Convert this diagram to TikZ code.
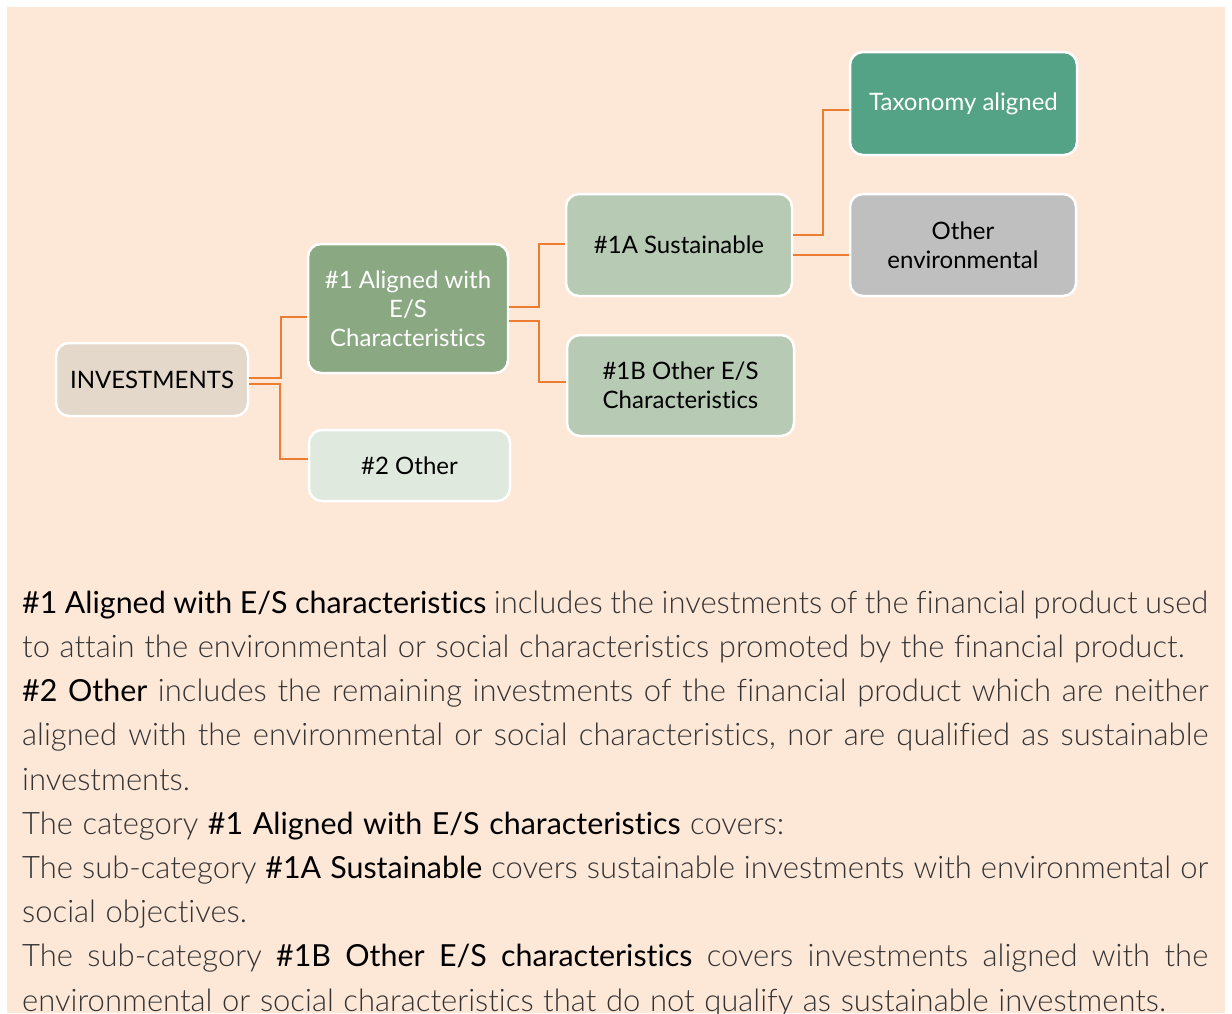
\documentclass[tikz,border=0pt]{standalone}
\usepackage{fontspec}
\setmainfont{Lato Light}[Ligatures=NoCommon]
\newfontfamily\latoreg{Lato}[Ligatures=NoCommon]
\definecolor{peach}{HTML}{FDE7D7}
\definecolor{linkorange}{HTML}{ED7D31}
\definecolor{invfill}{HTML}{E4D8CA}
\definecolor{alignfill}{HTML}{8AA882}
\definecolor{otherfill}{HTML}{DFE9DE}
\definecolor{subfill}{HTML}{B7CAB4}
\definecolor{taxfill}{HTML}{55A386}
\definecolor{envfill}{HTML}{BFBFBF}
\definecolor{bodygrey}{HTML}{333333}
\newcommand\keyterm[1]{{\latoreg\fontsize{30.4}{44.2}\selectfont\color{black}#1}}
\begin{document}
\begin{tikzpicture}[x=1pt,y=-1pt,
  box/.style={draw=white,line width=2.5pt,rounded corners=13pt,align=center,inner sep=0pt,
    font=\latoreg\fontsize{24}{29}\selectfont},
  link/.style={draw=linkorange,line width=2.2pt}]

\useasboundingbox (0,0) rectangle (1232,1013);
\fill[white] (0,0) rectangle (1232,1013);
\fill[peach] (7,7) rectangle (1225,1013);

\node[box,fill=invfill,minimum width=192pt,minimum height=73pt] (inv) at (152,379.5) {INVESTMENTS};
\node[box,fill=alignfill,text=white,minimum width=200pt,minimum height=129pt] (al) at (408,308.5) {\#1 Aligned with\\E/S\\Characteristics};
\node[box,fill=otherfill,minimum width=201pt,minimum height=71pt] (oth) at (409.5,465.5) {\#2 Other};
\node[box,fill=subfill,minimum width=226pt,minimum height=102pt] (sus) at (679,245) {\#1A Sustainable};
\node[box,fill=subfill,minimum width=227pt,minimum height=101pt] (es) at (680.5,385.5) {\#1B Other E/S\\Characteristics};
\node[box,fill=taxfill,text=white,minimum width=227pt,minimum height=103pt] (tax) at (963.5,103.5) {Taxonomy aligned};
\node[box,fill=envfill,minimum width=226pt,minimum height=102pt] (env) at (963,245) {Other\\environmental};

\draw[link] ([yshift=1.5pt]inv.east) -- ++(32,0) |- ([yshift=-8.5pt]al.west);
\draw[link] ([yshift=-4.5pt]inv.east) -- ++(31,0) |- ([yshift=6.5pt]oth.west);
\draw[link] ([yshift=1.5pt]al.east) -- ++(30,0) |- ([yshift=1pt]sus.west);
\draw[link] ([yshift=-12.5pt]al.east) -- ++(30,0) |- ([yshift=3.5pt]es.west);
\draw[link] ([yshift=10pt]sus.east) -- ++(30,0) |- ([yshift=-6.5pt]tax.west);
\draw[link] ([yshift=-10pt]sus.east) -- ([yshift=-10pt]env.west);

\node[anchor=north west,text width=1186pt,align=justify,inner sep=0pt,text=bodygrey,
  font=\fontsize{31}{44.2}\selectfont] (notes) at (22,590.5) {\hyphenpenalty=10000\tolerance=9999\emergencystretch=20pt
\spaceskip=0.31em plus 0.4em minus 0.15em
\keyterm{\#1 Aligned with E/S characteristics} includes the investments of the financial product used\linebreak
to attain the environmental or social characteristics promoted by the financial product.\par
\keyterm{\#2 Other} includes the remaining investments of the financial product which are neither\linebreak
aligned with the environmental or social characteristics, nor are qualified as sustainable\linebreak
investments.\par
The category \keyterm{\#1 Aligned with E/S characteristics} covers:\par
The sub-category \keyterm{\#1A Sustainable} covers sustainable investments with environmental or\linebreak
social objectives.\par
The sub-category \keyterm{\#1B Other E/S characteristics} covers investments aligned with the\linebreak
environmental or social characteristics that do not qualify as sustainable investments.\par};

\end{tikzpicture}
\end{document}
